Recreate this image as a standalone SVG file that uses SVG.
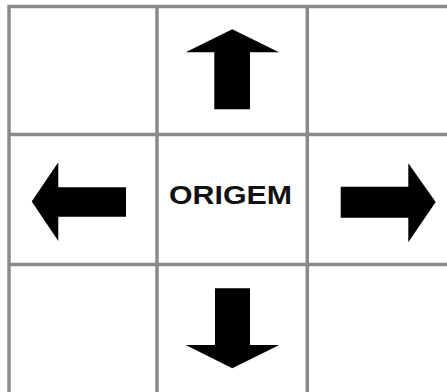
<svg xmlns="http://www.w3.org/2000/svg" width="447" height="392" viewBox="0 0 447 392">
<style>
.grid{stroke:#8a8a8a;stroke-width:3.5;fill:none}
.arrow{fill:#000}
.lbl{font-family:"Liberation Sans",Arial,sans-serif;font-weight:bold;font-size:26px;fill:#111}
</style>
<rect width="447" height="392" fill="#fff"/>
<g id="grid">
<path class="grid" d="M9,392 V6.5 H447 M157,6.5 V392 M307.3,6.5 V392 M9,134.5 H447 M9,264.5 H447"/>
</g>
<g id="origem">
<text class="lbl" x="169" y="204" textLength="123" lengthAdjust="spacingAndGlyphs">ORIGEM</text>
</g>
<g id="connectors">
<polygon id="up" class="arrow" points="232.3,29.3 279,52.3 250,52.3 250,109.3 214.3,109.3 214.3,52.3 185.7,52.3"/>
<polygon id="left" class="arrow" points="31.7,201.5 58.3,162.3 58.3,187.3 126,187.3 126,216.7 58.3,216.7 58.3,241"/>
<polygon id="right" class="arrow" points="435.7,202 408.3,163.3 408.3,186.7 340.7,186.7 340.7,217.7 408.3,217.7 408.3,242.3"/>
<polygon id="down" class="arrow" points="232.3,368.3 279.3,345 250,345 250,288.3 215,288.3 215,345 185.7,345"/>
</g>
</svg>
